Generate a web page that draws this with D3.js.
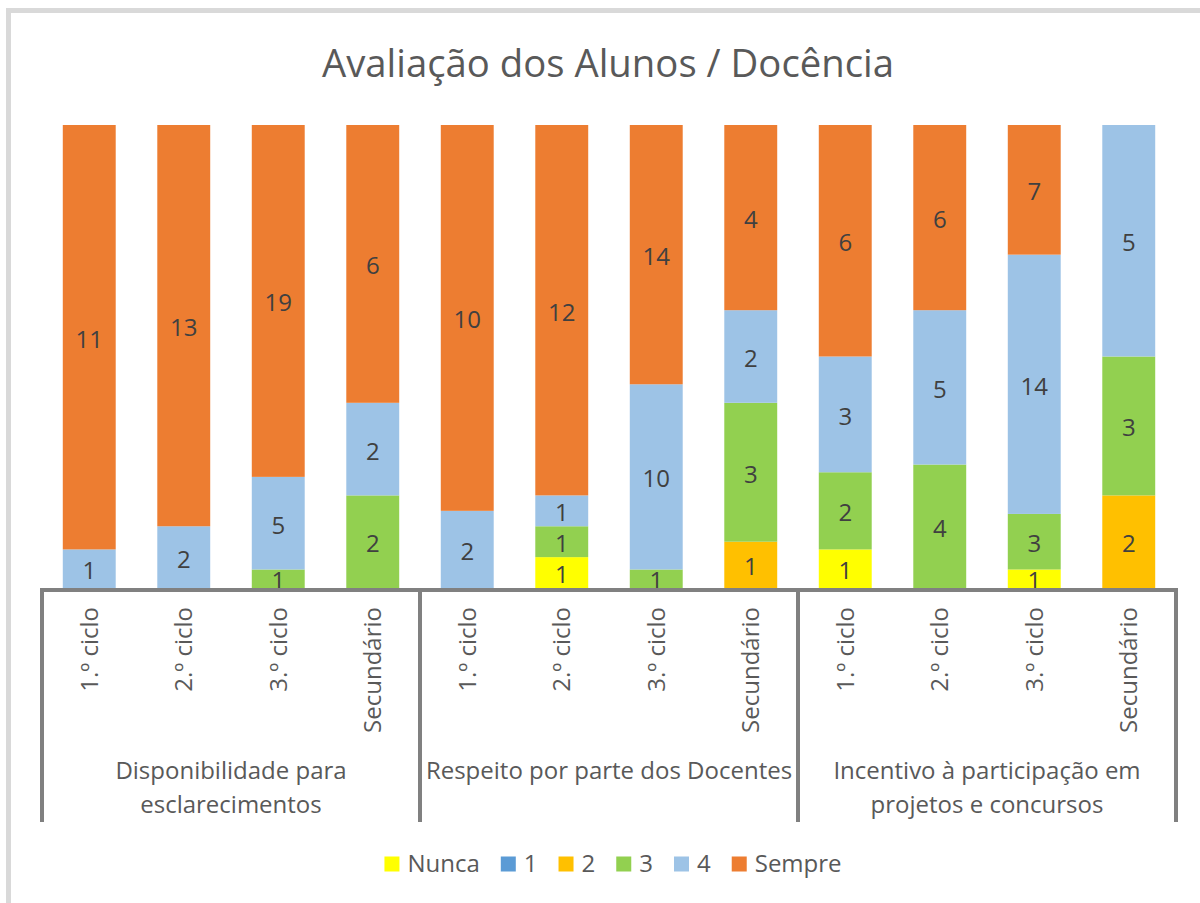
<!DOCTYPE html>
<html>
<head>
<meta charset="utf-8">
<script src="https://cdn.jsdelivr.net/npm/d3@7"></script>
<style>
  html, body { margin: 0; padding: 0; background: #fff; }
  svg { display: block; font-family: "Open Sans", "Noto Sans", sans-serif; }
</style>
</head>
<body>
<div id="container"></div>
<script>
window.onload = function() {
    'use strict';

    // dados do gráfico
    const niveis  = ['1.º ciclo', '2.º ciclo', '3.º ciclo', 'Secundário'];
    const grupos  = [
        ['Disponibilidade para', 'esclarecimentos'],
        ['Respeito por parte dos Docentes'],
        ['Incentivo à participação em', 'projetos e concursos']
    ];
    const series  = ['Nunca', '1', '2', '3', '4', 'Sempre'];
    const nunca   = [0, 0, 0, 0,   0, 1, 0, 0,   1, 0, 1, 0];
    const um      = [0, 0, 0, 0,   0, 0, 0, 0,   0, 0, 0, 0];
    const dois    = [0, 0, 0, 0,   0, 0, 0, 1,   0, 0, 0, 2];
    const tres    = [0, 0, 1, 2,   0, 1, 1, 3,   2, 4, 3, 3];
    const quatro  = [1, 2, 5, 2,   2, 1, 10, 2,  3, 5, 14, 5];
    const sempre  = [11, 13, 19, 6, 10, 12, 14, 4, 6, 6, 7, 0];

    const color = {
        'Nunca': '#ffff00',
        '1': '#5b9bd5',
        '2': '#ffc000',
        '3': '#92d050',
        '4': '#9dc3e6',
        'Sempre': '#ed7d31',
        axis: '#808080',
        text: '#595959',
        label: '#404040',
        frame: '#d9d9d9'
    };

    const canvas = { width: 1200, height: 903 };
    const plot = { left: 42, right: 1176, top: 125, bottom: 588 };

    const svg = d3.select('#container')
        .append('svg')
        .attr('width', canvas.width)
        .attr('height', canvas.height);

    // moldura
    svg.append('rect')
        .attr('x', 8.5)
        .attr('y', 10.5)
        .attr('width', 1250)
        .attr('height', 950)
        .attr('fill', 'none')
        .attr('stroke', color.frame)
        .attr('stroke-width', 5);

    // título
    svg.append('text')
        .attr('x', 608)
        .attr('y', 77)
        .attr('text-anchor', 'middle')
        .attr('fill', color.text)
        .style('font-size', '38.3px')
        .text('Avaliação dos Alunos / Docência');

    const valores = [nunca, um, dois, tres, quatro, sempre];
    const linhas = d3.range(12).map(i => {
        const row = { i: i };
        series.forEach((s, k) => { row[s] = valores[k][i]; });
        return row;
    });

    const stack = d3.stack()
        .keys(series)
        .offset(d3.stackOffsetExpand);
    const stacked = stack(linhas);

    const x = d3.scaleBand()
        .domain(d3.range(12))
        .range([plot.left, plot.right])
        .paddingInner(0.44)
        .paddingOuter(0.22);

    const y = d3.scaleLinear()
        .domain([0, 1])
        .range([plot.bottom, plot.top]);

    const camadas = svg.append('g')
        .selectAll('g')
        .data(stacked)
        .join('g')
        .attr('fill', d => color[d.key]);

    camadas.selectAll('rect')
        .data(d => d)
        .join('rect')
        .attr('x', d => x(d.data.i))
        .attr('y', d => y(d[1]))
        .attr('width', x.bandwidth())
        .attr('height', d => y(d[0]) - y(d[1]));

    // rótulos dos valores
    stacked.forEach(layer => {
        layer.forEach(d => {
            const v = d.data[layer.key];
            if (!v) return;
            svg.append('text')
                .attr('x', x(d.data.i) + x.bandwidth() / 2)
                .attr('y', (y(d[0]) + y(d[1])) / 2 + 2)
                .attr('dy', '0.35em')
                .attr('text-anchor', 'middle')
                .attr('fill', color.label)
                .style('font-size', '24px')
                .text(v);
        });
    });

    // eixo com categorias em dois níveis
    const passo = x.step() * 4;
    svg.append('line')
        .attr('x1', plot.left - 2)
        .attr('x2', plot.right + 2)
        .attr('y1', 590)
        .attr('y2', 590)
        .attr('stroke', color.axis)
        .attr('stroke-width', 4);

    d3.range(4).forEach(g => {
        const gx = plot.left + g * passo;
        svg.append('line')
            .attr('x1', gx)
            .attr('x2', gx)
            .attr('y1', 588)
            .attr('y2', 822)
            .attr('stroke', color.axis)
            .attr('stroke-width', 4);
    });

    d3.range(12).forEach(i => {
        const cx = x(i) + x.bandwidth() / 2;
        svg.append('text')
            .attr('transform', `translate(${cx},607) rotate(-90)`)
            .attr('dy', '0.35em')
            .attr('text-anchor', 'end')
            .attr('fill', color.text)
            .style('font-size', '24px')
            .text(niveis[i % 4]);
    });

    grupos.forEach((linhasTexto, g) => {
        const cx = plot.left + g * passo + passo / 2;
        linhasTexto.forEach((t, k) => {
            svg.append('text')
                .attr('x', cx)
                .attr('y', 779 + k * 34)
                .attr('text-anchor', 'middle')
                .attr('fill', color.text)
                .style('font-size', '24px')
                .text(t);
        });
    });

    // legenda
    const legenda = svg.append('g');
    let lx = 0;
    series.forEach(s => {
        const item = legenda.append('g').attr('transform', `translate(${lx},0)`);
        item.append('rect')
            .attr('x', 0)
            .attr('y', -7.5)
            .attr('width', 15)
            .attr('height', 15)
            .attr('fill', color[s]);
        const t = item.append('text')
            .attr('x', 23)
            .attr('dy', '0.35em')
            .attr('fill', color.text)
            .style('font-size', '24px')
            .text(s);
        lx += 23 + t.node().getComputedTextLength() + 21;
    });
    const largura = lx - 21;
    legenda.attr('transform', `translate(${613 - largura / 2},864)`);
};
</script>
</body>
</html>
